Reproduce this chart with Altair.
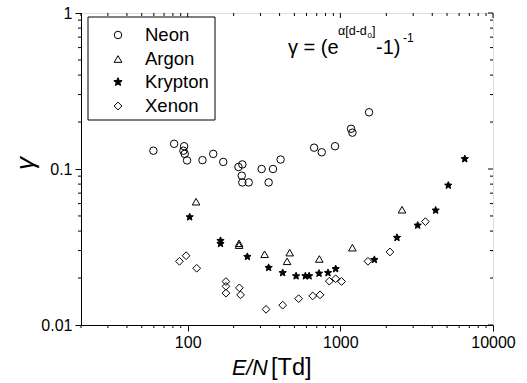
import altair as alt
import pandas as pd

# Measured ionisation coefficient gamma versus reduced field E/N
neon_x = [59.6, 81.5, 94.7, 93.7, 95.6, 99, 125, 147, 171, 215, 228, 226, 228, 251,
          305, 339, 362, 406, 673, 755, 923, 1175, 1200, 1542]
neon_y = [0.131, 0.145, 0.140, 0.131, 0.125, 0.1135, 0.114, 0.125, 0.111, 0.103, 0.107,
          0.0906, 0.082, 0.082, 0.100, 0.082, 0.100, 0.115, 0.137, 0.128, 0.140, 0.181,
          0.171, 0.231]

argon_x = [113.5, 217, 217, 319, 448, 466, 728, 1199, 2535]
argon_y = [0.0617, 0.0334, 0.0325, 0.0284, 0.0256, 0.0291, 0.0265, 0.0313, 0.0548]

krypton_x = [103, 164, 164, 246, 339, 419, 513, 590, 624, 725, 830, 932, 1671, 2350,
             3211, 4210, 5096, 6530]
krypton_y = [0.0492, 0.0347, 0.0332, 0.0274, 0.0233, 0.0216, 0.0206, 0.0206, 0.0206,
             0.0214, 0.0216, 0.0229, 0.0262, 0.0363, 0.0435, 0.0543, 0.0785, 0.116]

xenon_x = [88.3, 97.6, 114.6, 178, 178, 178, 218, 222, 326, 419, 533, 659, 736, 847,
           931, 1019, 1517, 2114, 3606]
xenon_y = [0.0256, 0.0278, 0.0231, 0.019, 0.0177, 0.016, 0.0173, 0.0156, 0.0126, 0.0134,
           0.01475, 0.01535, 0.0156, 0.0191, 0.0198, 0.019, 0.0256, 0.0294, 0.046]

gases = ["Neon", "Argon", "Krypton", "Xenon"]

# axis tick positions (decades and their minor subdivisions)
x_major = [100, 1000, 10000]
x_minor = [20, 30, 40, 50, 60, 70, 80, 90, 200, 300, 400, 500, 600, 700, 800, 900,
           2000, 3000, 4000, 5000, 6000, 7000, 8000, 9000]
y_major = [0.01, 0.1, 1]
y_minor = [0.02, 0.03, 0.04, 0.05, 0.06, 0.07, 0.08, 0.09,
           0.2, 0.3, 0.4, 0.5, 0.6, 0.7, 0.8, 0.9]

W, H = 412, 312
FONT = "Liberation Sans"

STAR = ("M0,-1L0.265,-0.364L0.951,-0.309L0.428,0.139L0.588,0.809L0,0.45"
        "L-0.588,0.809L-0.428,0.139L-0.951,-0.309L-0.265,-0.364Z")
shapes = ["circle", "triangle-up", STAR, "diamond"]
fills = ["transparent", "transparent", "black", "transparent"]
sizes = [56, 60, 76, 62]

frames = []
for name, xs, ys in [("Neon", neon_x, neon_y), ("Argon", argon_x, argon_y),
                     ("Krypton", krypton_x, krypton_y), ("Xenon", xenon_x, xenon_y)]:
    frames.append(pd.DataFrame({"EN": xs, "gamma": ys, "gas": name}))
df = pd.concat(frames, ignore_index=True)

xscale = alt.Scale(type="log", domain=[20, 10000], nice=False)
yscale = alt.Scale(type="log", domain=[0.01, 1], nice=False)

common = dict(
    grid=False, format="~g", labelOverlap=False, labelFlush=False, tickSize=6,
    tickColor="black", domainColor="black", labelColor="black",
    labelFont=FONT, labelFontSize=16,
)

X_AXIS = alt.Axis(values=x_major, title=None, labelPadding=3, **common)
Y_AXIS = alt.Axis(
    values=y_major, title="\u03b3", titleFont=FONT, titleFontSize=26,
    titleFontStyle="italic", titleFontWeight="normal", titleColor="black",
    titleAngle=270, titleAlign="center", titleBaseline="middle",
    titleX=-56, titleY=150, labelPadding=3, **common,
)

points = alt.Chart(df).mark_point(filled=True, stroke="black", strokeWidth=1, opacity=1).encode(
    x=alt.X("EN:Q", scale=xscale, axis=X_AXIS),
    y=alt.Y("gamma:Q", scale=yscale, axis=Y_AXIS),
    shape=alt.Shape("gas:N", scale=alt.Scale(domain=gases, range=shapes), legend=None),
    fill=alt.Fill("gas:N", scale=alt.Scale(domain=gases, range=fills), legend=None),
    size=alt.Size("gas:N", scale=alt.Scale(domain=gases, range=sizes), legend=None),
)

# minor ticks (outward on left/bottom) and mirrored ticks (inward on top/right)
xt_major = pd.DataFrame({"EN": x_major})
xt_minor = pd.DataFrame({"EN": x_minor})
yt_major = pd.DataFrame({"gamma": y_major})
yt_minor = pd.DataFrame({"gamma": y_minor})

def xticks(d, y0, y1):
    return alt.Chart(d).mark_rule(color="black", strokeWidth=1).encode(
        x=alt.X("EN:Q", scale=xscale, axis=X_AXIS), y=alt.value(y0), y2=alt.value(y1))

def yticks(d, x0, x1):
    return alt.Chart(d).mark_rule(color="black", strokeWidth=1).encode(
        y=alt.Y("gamma:Q", scale=yscale, axis=Y_AXIS), x=alt.value(x0), x2=alt.value(x1))

tick_layers = [
    xticks(xt_minor, H, H + 3),
    yticks(yt_minor, 0, -3),
    xticks(xt_major, 0, 5), xticks(xt_minor, 0, 3),
    yticks(yt_major, W, W - 5), yticks(yt_minor, W, W - 3),
]

one = pd.DataFrame({"k": [0]})

def label(text, x, y, size, style="normal", align="left", baseline="alphabetic"):
    return alt.Chart(one).mark_text(
        text=text, font=FONT, fontSize=size, fontStyle=style, align=align,
        baseline=baseline, color="black",
    ).encode(x=alt.value(x), y=alt.value(y))

# legend box
legend_box = alt.Chart(one).mark_rect(fill="white", stroke="black", strokeWidth=1).encode(
    x=alt.value(7), x2=alt.value(134), y=alt.value(4), y2=alt.value(107))
legend_layers = [legend_box]
rows_y = [22, 46, 69, 93]
for g, shp, fl, sz, ry in zip(gases, shapes, fills, sizes, rows_y):
    legend_layers.append(
        alt.Chart(one).mark_point(shape=shp, fill=fl, filled=True, stroke="black",
                                  strokeWidth=1, size=sz, opacity=1)
        .encode(x=alt.value(37), y=alt.value(ry)))
    legend_layers.append(label(g, 64, ry, 18.5, baseline="middle"))

# fitted expression
formula = [
    label("\u03b3 = (e", 207, 41, 20),
    label("\u03b1[d-d", 257, 22, 12.5),
    label("0", 286.5, 25, 8),
    label("]", 291, 22, 12.5),
    label("-1)", 295, 41, 20),
    label("-1", 322, 29, 12),
]

titles = [
    label("E/N", 151, 362, 21.5, style="italic"),
    label("[Td]", 190, 362, 23.5),
]

chart = alt.layer(
    points, *tick_layers, *legend_layers, *formula, *titles,
).properties(
    width=W, height=H,
    autosize=alt.AutoSizeParams(type="none"),
    padding={"left": 81, "top": 13, "right": 34, "bottom": 58},
).configure_view(
    stroke="black", strokeWidth=1
).configure(background="white")

chart.save("out.html", embed_options={"renderer": "svg", "actions": False})
